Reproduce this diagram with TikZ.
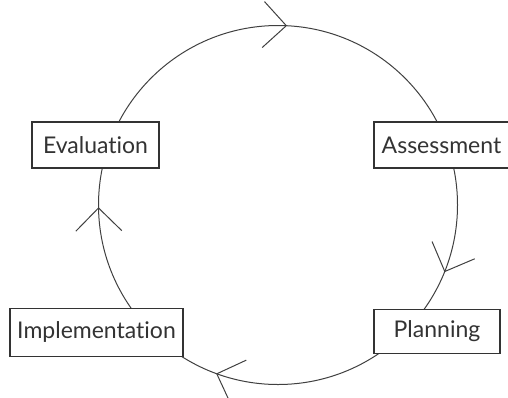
\documentclass[tikz,border=0pt]{standalone}
\usepackage{fontspec}
\setmainfont{Lato}[Ligatures=NoCommon]
\usetikzlibrary{positioning,arrows.meta,decorations.markings}

\tikzset{
  stage/.style={rectangle, draw=black!80, line width=1.2pt, fill=white, minimum height=46pt, inner sep=0pt, text=black!80, font=\fontsize{23}{27}\selectfont},
  loop/.style={draw=black!75, line width=1pt},
  barbs/.style={postaction={decorate}, decoration={markings,
    mark=at position 0.061 with {\arrow{Straight Barb[length=23pt,width=46pt,line width=1pt]}},
    mark=at position 0.306 with {\arrow{Straight Barb[length=23pt,width=46pt,line width=1pt]}},
    mark=at position 0.498 with {\arrow{Straight Barb[length=23pt,width=46pt,line width=1pt]}},
    mark=at position 0.758 with {\arrow{Straight Barb[length=23pt,width=46pt,line width=1pt]}}}}
}

\begin{document}
\begin{tikzpicture}[x=1pt, y=-1pt]
    \useasboundingbox (0,0) rectangle (508,397);
    \coordinate (centre) at (278,205);

    % the cycle, drawn clockwise
    \draw[loop, barbs] (centre) ++(0:179.5) arc[start angle=0, end angle=360, radius=179.5];

    \node (evaluation) [stage, minimum width=127pt] at (95.5,145) {Evaluation};
    \node (assessment) [stage, minimum width=135pt] at (441.5,145) {Assessment};
    \node (implementation) [stage, minimum width=173pt, minimum height=48pt, below=139pt of evaluation, xshift=1pt] {Implementation};
    \node (planning) [stage, minimum width=126pt, minimum height=44pt, below=140pt of assessment, xshift=-4.5pt] {Planning};
\end{tikzpicture}
\end{document}
